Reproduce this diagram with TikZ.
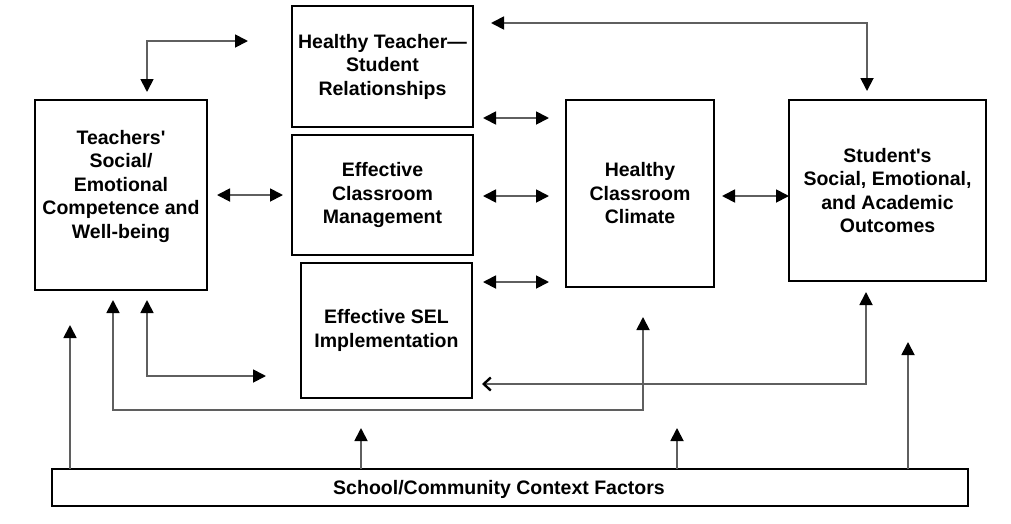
\documentclass[tikz,border=0pt]{standalone}
\usepackage{fontspec}
\setmainfont{Liberation Sans}
\usetikzlibrary{arrows.meta}
\definecolor{conncol}{RGB}{95,95,95}
\tikzset{
  lbl/.style={inner sep=0pt, align=center, font=\fontsize{19.5}{23.5}\selectfont\bfseries},
  box/.style={lbl, draw=black, line width=2.8pt, fill=white, outer sep=0pt},
  conn/.style={draw=conncol, line width=1.8pt},
  tri/.tip={Triangle[length=13pt,width=13pt,color=black]},
  barb/.tip={Straight Barb[length=7pt,width=13pt,line width=2.4pt,color=black]},
  dbl/.style={conn, tri-tri},
  one/.style={conn, -tri}
}
\begin{document}
\begin{tikzpicture}[x=1pt,y=-1pt]
\useasboundingbox (0,0) rectangle (1011,523);
% boxes
\node[box, minimum width=172, minimum height=190] (teach) at (121,195) {};
\node[lbl] (teachT) at (121,186) {Teachers\textquotesingle\\Social/\\Emotional\\Competence and\\Well-being};
\node[box, minimum width=181, minimum height=121] (htsr) at (382.5,66.5) {Healthy Teacher—\\Student\\Relationships};
\node[box, minimum width=181, minimum height=120] (ecm) at (382.5,195) {Effective\\Classroom\\Management};
\node[box, minimum width=171, minimum height=135] (sel) at (386.5,330.5) {Effective SEL\\Implementation};
\node[box, minimum width=148, minimum height=187] (clim) at (640,193.5) {Healthy\\Classroom\\Climate};
\node[box, minimum width=197, minimum height=181] (stud) at (887.5,190.5) {Student\textquotesingle s\\Social, Emotional,\\and Academic\\Outcomes};
\node[box, minimum width=916, minimum height=37] (school) at (510,487.5) {};
\node[lbl] (schoolT) at (499,489) {School/Community Context Factors};
% free ends
\coordinate (tl1) at (147,92);
\coordinate (tl2) at (248,41);
\coordinate (r1a) at (483,118);
\coordinate (r1b) at (549,118);
\coordinate (r2a) at (483,196);
\coordinate (r2b) at (549,196);
\coordinate (r3a) at (483,282);
\coordinate (r3b) at (549,282);
\coordinate (tr1) at (491,23);
\coordinate (tr2) at (867,91);
\coordinate (sb1) at (866,292);
\coordinate (sb2) at (482,384);
\coordinate (lb1) at (147,300);
\coordinate (lb2) at (266,376);
\coordinate (bb1) at (113,300);
\coordinate (bb2) at (643,317);
\coordinate (s1) at (70,325);
\coordinate (s2) at (361,428);
\coordinate (s3) at (677,428);
\coordinate (s4) at (908,342);
% connectors
\draw[dbl] (tl1) |- (tl2);
\draw[dbl] ([xshift=10]teach.east) -- ([xshift=-9]ecm.west);
\draw[dbl] (r1a) -- (r1b);
\draw[dbl] (r2a) -- (r2b);
\draw[dbl] (r3a) -- (r3b);
\draw[dbl] ([xshift=8]clim.east |- 0,196) -- (stud.west |- 0,196);
\draw[dbl] (tr1) -| (tr2);
\draw[conn, tri-barb] (sb1) |- (sb2);
\draw[dbl] (lb1) |- (lb2);
\draw[dbl] (bb1) -- (bb1 |- 0,410) -| (bb2);
\draw[one] (school.north -| s1) -- (s1);
\draw[one] (school.north -| s2) -- (s2);
\draw[one] (school.north -| s3) -- (s3);
\draw[one] (school.north -| s4) -- (s4);
\end{tikzpicture}
\end{document}
